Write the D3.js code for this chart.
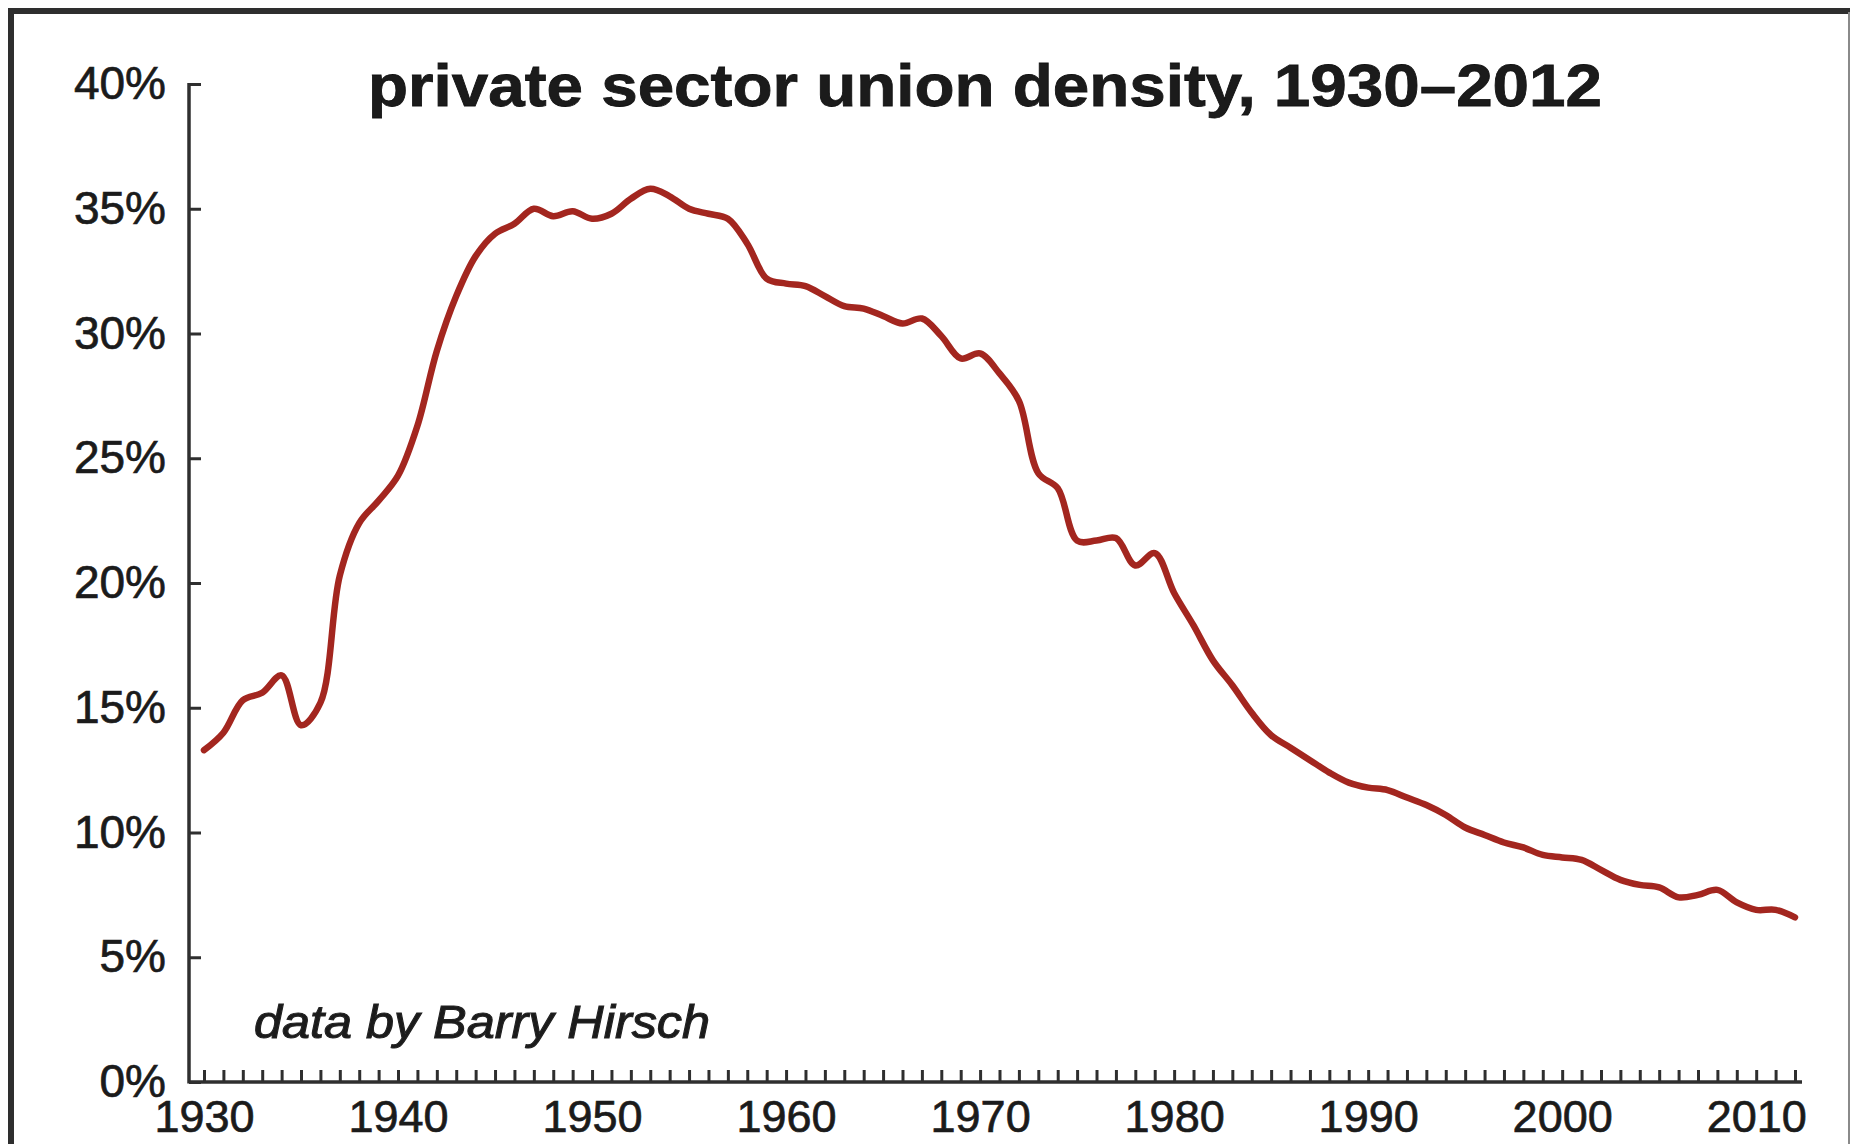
<!DOCTYPE html>
<html>
<head>
<meta charset="utf-8">
<script src="https://cdn.jsdelivr.net/npm/d3@7"></script>
<style>
  html, body { margin: 0; padding: 0; background: #fff; }
  svg { display: block; }
  text { font-family: "Liberation Sans", Arial, Helvetica, sans-serif; fill: #1b1b1b; }
</style>
</head>
<body>
<svg id="chart" width="1858" height="1144"></svg>
<script>
// ---- data ----
const years = d3.range(1930, 2013);
const density = [
  13.3, 14.0, 15.3, 15.6, 16.3, 14.3, 15.2, 20.3, 22.4, 23.3,   // 1930-1939
  24.3, 26.3, 29.3, 31.5, 33.1, 34.0, 34.4, 35.0, 34.7, 34.9,   // 1940-1949
  34.6, 34.8, 35.4, 35.8, 35.5, 35.0, 34.8, 34.6, 33.6, 32.2,   // 1950-1959
  32.0, 31.9, 31.5, 31.1, 31.0, 30.7, 30.4, 30.6, 29.9, 29.0,   // 1960-1969
  29.2, 28.4, 27.3, 24.4, 23.8, 21.7, 21.7, 21.8, 20.7, 21.2,   // 1970-1979
  19.6, 18.3, 16.9, 15.9, 14.8, 13.9, 13.4, 12.9, 12.4, 12.0,   // 1980-1989
  11.8, 11.7, 11.4, 11.1, 10.7, 10.2, 9.9, 9.6, 9.4, 9.1,       // 1990-1999
  9.0, 8.9, 8.5, 8.1, 7.9, 7.8, 7.4, 7.5, 7.7, 7.2,             // 2000-2009
  6.9, 6.9, 6.6                                                 // 2010-2012
];
const yTicks = [0, 5, 10, 15, 20, 25, 30, 35, 40];
const xLabelYears = [1930, 1940, 1950, 1960, 1970, 1980, 1990, 2000, 2010];
const titleText = "private sector union density, 1930\u20132012";
const creditText = "data by Barry Hirsch";

// ---- drawing ----
const svg = d3.select("#chart");
const W = 1858, H = 1144;

svg.append("rect").attr("x", 0).attr("y", 0).attr("width", W).attr("height", H).attr("fill", "#fff");

// outer frame (top & left heavy, right thin)
svg.append("line").attr("x1", 11).attr("x2", 1850).attr("y1", 11).attr("y2", 11)
  .attr("stroke", "#2e2e2e").attr("stroke-width", 6);
svg.append("line").attr("x1", 11).attr("x2", 11).attr("y1", 8).attr("y2", H)
  .attr("stroke", "#2e2e2e").attr("stroke-width", 6);
svg.append("line").attr("x1", 1849).attr("x2", 1849).attr("y1", 12).attr("y2", H)
  .attr("stroke", "#8a8a8a").attr("stroke-width", 2);

const x = d3.scaleLinear().domain([1930, 2012]).range([204, 1795]);
const y = d3.scaleLinear().domain([0, 40]).range([1082, 84]);

const axisColor = "#2f2f2f";
const yAxisX = x(1930) - 15;

// x axis
const xAxis = d3.axisBottom(x)
  .tickValues(years)
  .tickSize(-12)
  .tickPadding(18)
  .tickFormat(d => xLabelYears.includes(d) ? String(d) : "");
const gx = svg.append("g").attr("transform", `translate(0,${y(0)})`).call(xAxis);
gx.select(".domain").remove();
gx.selectAll(".tick line").attr("stroke", axisColor).attr("stroke-width", 3);
gx.selectAll(".tick text").attr("font-size", 45).attr("fill", "#1b1b1b")
  .attr("stroke", "#1b1b1b").attr("stroke-width", 0.7)
  .attr("font-family", "'Liberation Sans', Arial, sans-serif");
svg.append("line")
  .attr("x1", yAxisX).attr("x2", x(2012) + 7)
  .attr("y1", y(0)).attr("y2", y(0))
  .attr("stroke", axisColor).attr("stroke-width", 3.5);

// y axis
const yAxis = d3.axisLeft(y)
  .tickValues(yTicks)
  .tickSize(-12)
  .tickPadding(23)
  .tickFormat(d => d + "%");
const gy = svg.append("g").attr("transform", `translate(${yAxisX},0)`).call(yAxis);
gy.select(".domain").remove();
gy.selectAll(".tick line").attr("stroke", axisColor).attr("stroke-width", 3);
gy.selectAll(".tick text").attr("font-size", 46).attr("fill", "#1b1b1b")
  .attr("stroke", "#1b1b1b").attr("stroke-width", 0.7)
  .attr("font-family", "'Liberation Sans', Arial, sans-serif");
svg.append("line")
  .attr("x1", yAxisX).attr("x2", yAxisX)
  .attr("y1", y(40) - 1).attr("y2", y(0) + 1.5)
  .attr("stroke", axisColor).attr("stroke-width", 3.5);

// line
const line = d3.line()
  .x((d, i) => x(years[i]))
  .y(d => y(d))
  .curve(d3.curveCatmullRom.alpha(0.5));
svg.append("path")
  .datum(density)
  .attr("d", line)
  .attr("fill", "none")
  .attr("stroke", "#a3261f")
  .attr("stroke-width", 6.5)
  .attr("stroke-linecap", "round")
  .attr("stroke-linejoin", "round");

// title
svg.append("text")
  .attr("x", 368).attr("y", 106)
  .attr("font-size", 60).attr("font-weight", "bold")
  .attr("stroke", "#111").attr("stroke-width", 0.8)
  .attr("textLength", 1234).attr("lengthAdjust", "spacingAndGlyphs")
  .text(titleText);

// credit
svg.append("text")
  .attr("x", 254).attr("y", 1038)
  .attr("font-size", 47).attr("font-style", "italic")
  .attr("stroke", "#222").attr("stroke-width", 1.1)
  .attr("textLength", 456).attr("lengthAdjust", "spacingAndGlyphs")
  .attr("fill", "#222")
  .text(creditText);
</script>
</body>
</html>
